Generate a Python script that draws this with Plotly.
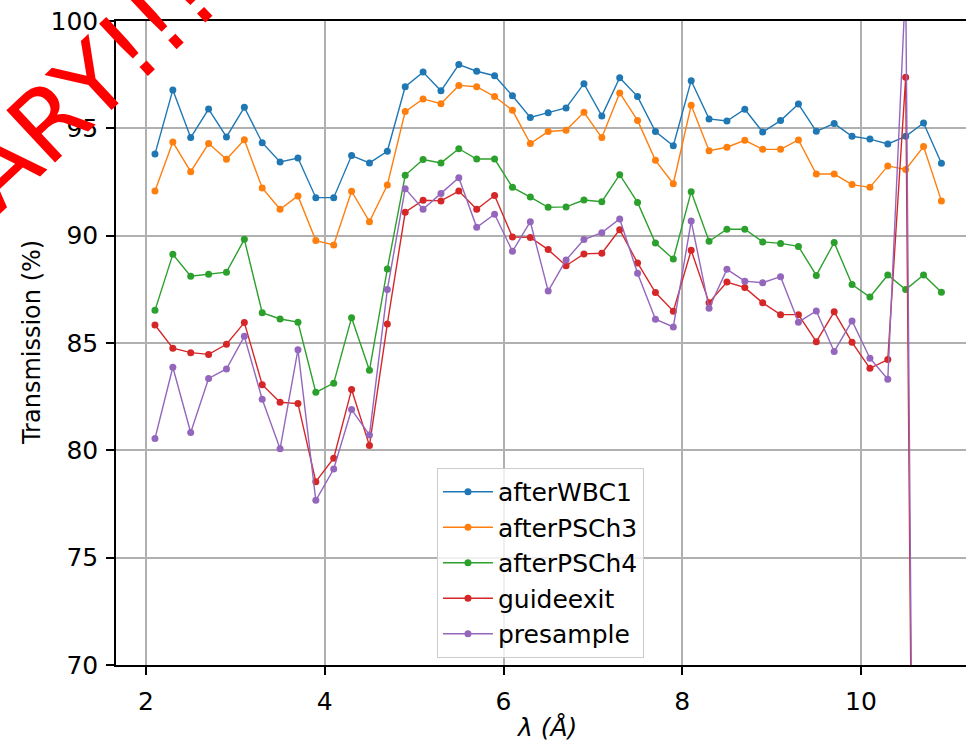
import plotly.graph_objects as go

# Wavelength bins (Angstrom)
wavelength = [2.1, 2.3, 2.5, 2.7, 2.9, 3.1, 3.3, 3.5, 3.7, 3.9,
              4.1, 4.3, 4.5, 4.7, 4.9, 5.1, 5.3, 5.5, 5.7, 5.9,
              6.1, 6.3, 6.5, 6.7, 6.9, 7.1, 7.3, 7.5, 7.7, 7.9,
              8.1, 8.3, 8.5, 8.7, 8.9, 9.1, 9.3, 9.5, 9.7, 9.9,
              10.1, 10.3, 10.5, 10.7, 10.9]

# Transmission (%) at each monitor position
afterWBC1 = [93.80, 96.79, 94.57, 95.90, 94.60, 95.98, 94.33, 93.43, 93.62, 91.77,
             91.77, 93.73, 93.39, 93.93, 96.94, 97.62, 96.75, 97.97, 97.66, 97.45,
             96.52, 95.51, 95.73, 95.95, 97.08, 95.58, 97.36, 96.48, 94.85, 94.19,
             97.22, 95.44, 95.34, 95.89, 94.83, 95.36, 96.13, 94.86, 95.22, 94.63,
             94.50, 94.27, 94.63, 95.25, 93.37]
afterPSCh3 = [92.08, 94.36, 92.98, 94.29, 93.56, 94.47, 92.22, 91.23, 91.85, 89.77,
              89.57, 92.07, 90.65, 92.36, 95.78, 96.37, 96.15, 97.00, 96.94, 96.48,
              95.84, 94.29, 94.85, 94.91, 95.75, 94.57, 96.65, 95.37, 93.51, 92.42,
              96.07, 93.96, 94.12, 94.44, 94.02, 94.02, 94.46, 92.87, 92.87, 92.38,
              92.25, 93.25, 93.08, 94.15, 91.62]
afterPSCh4 = [86.52, 89.13, 88.11, 88.20, 88.30, 89.83, 86.41, 86.12, 85.97, 82.70,
              83.13, 86.18, 83.73, 88.45, 92.81, 93.55, 93.39, 94.05, 93.57, 93.57,
              92.25, 91.80, 91.32, 91.34, 91.66, 91.58, 92.84, 91.55, 89.66, 88.91,
              92.05, 89.74, 90.30, 90.30, 89.71, 89.64, 89.50, 88.15, 89.68, 87.72,
              87.14, 88.17, 87.49, 88.17, 87.36]
guideexit = [85.84, 84.76, 84.55, 84.47, 84.94, 85.95, 83.06, 82.24, 82.18, 78.54,
             79.63, 82.83, 80.22, 85.89, 91.09, 91.65, 91.62, 92.08, 91.23, 91.87,
             89.94, 89.92, 89.35, 88.60, 89.15, 89.18, 90.28, 88.73, 87.35, 86.48,
             89.32, 86.88, 87.84, 87.58, 86.87, 86.32, 86.32, 85.06, 86.45, 85.03,
             83.82, 84.23, 97.38, 0.0, 0.0]
presample = [80.55, 83.87, 80.83, 83.35, 83.79, 85.31, 82.38, 80.07, 84.69, 77.67,
             79.13, 81.90, 80.72, 87.49, 92.19, 91.23, 91.97, 92.70, 90.39, 91.00,
             89.27, 90.65, 87.42, 88.87, 89.82, 90.14, 90.78, 88.25, 86.11, 85.75,
             90.68, 86.62, 88.43, 87.88, 87.81, 88.09, 85.97, 86.49, 84.60, 86.03,
             84.29, 83.31, 101.8, 0.0, 0.0]

series_names = ["afterWBC1", "afterPSCh3", "afterPSCh4", "guideexit", "presample"]
series_values = [afterWBC1, afterPSCh3, afterPSCh4, guideexit, presample]
colors = ["#1f77b4", "#ff7f0e", "#2ca02c", "#d62728", "#9467bd"]

y_ticks = [70, 75, 80, 85, 90, 95, 100]
x_ticks = [2, 4, 6, 8, 10]

FONT = "DejaVu Sans"
FS = 25

fig = go.Figure()
for name, vals, col in zip(series_names, series_values, colors):
    fig.add_trace(go.Scatter(
        x=wavelength, y=vals, name=name, mode="lines+markers",
        line=dict(color=col, width=1.4),
        marker=dict(color=col, size=7),
    ))

axis_common = dict(
    showgrid=True, gridcolor="#b0b0b0", gridwidth=1.5,
    zeroline=False, showline=True, linecolor="black", linewidth=1.5,
    ticks="outside", ticklen=8, tickwidth=1.5, tickcolor="black",
    tickfont=dict(family=FONT, size=FS, color="black"),
)

fig.update_layout(
    width=966, height=744,
    margin=dict(l=116, r=0, t=21, b=79),
    paper_bgcolor="white", plot_bgcolor="white",
    font=dict(family=FONT, size=FS, color="black"),
    xaxis=dict(range=[1.664, 11.175], tickvals=x_ticks, mirror=True,
               ticklabelstandoff=5, **axis_common),
    yaxis=dict(range=[70, 100], tickvals=y_ticks,
               ticklabelstandoff=3, **axis_common),
    showlegend=True,
    legend=dict(
        x=0.3776, y=0.306, xanchor="left", yanchor="top",
        bgcolor="rgba(255,255,255,0.8)", bordercolor="#cccccc", borderwidth=1,
        font=dict(family=FONT, size=FS, color="black"),
        itemwidth=50,
    ),
)

# Axis titles
fig.add_annotation(text="<i>λ (Å)</i>", xref="paper", yref="paper",
                   x=0.507, y=0, yshift=-62, showarrow=False,
                   xanchor="center", yanchor="middle",
                   font=dict(family=FONT, size=FS, color="black"))
fig.add_annotation(text="Transmission (%)", xref="paper", yref="paper",
                   x=-0.0988, y=0.5, showarrow=False, textangle=-90,
                   xanchor="center", yanchor="middle",
                   font=dict(family=FONT, size=24, color="black"))

# Draft watermark
fig.add_annotation(text="PRELIMINARY!!!", xref="paper", yref="paper",
                   x=-0.2306, y=0.6568, showarrow=False, textangle=-43,
                   xanchor="center", yanchor="middle",
                   font=dict(family=FONT, size=98, color="#ff0000"))

fig.write_html("out.html")
